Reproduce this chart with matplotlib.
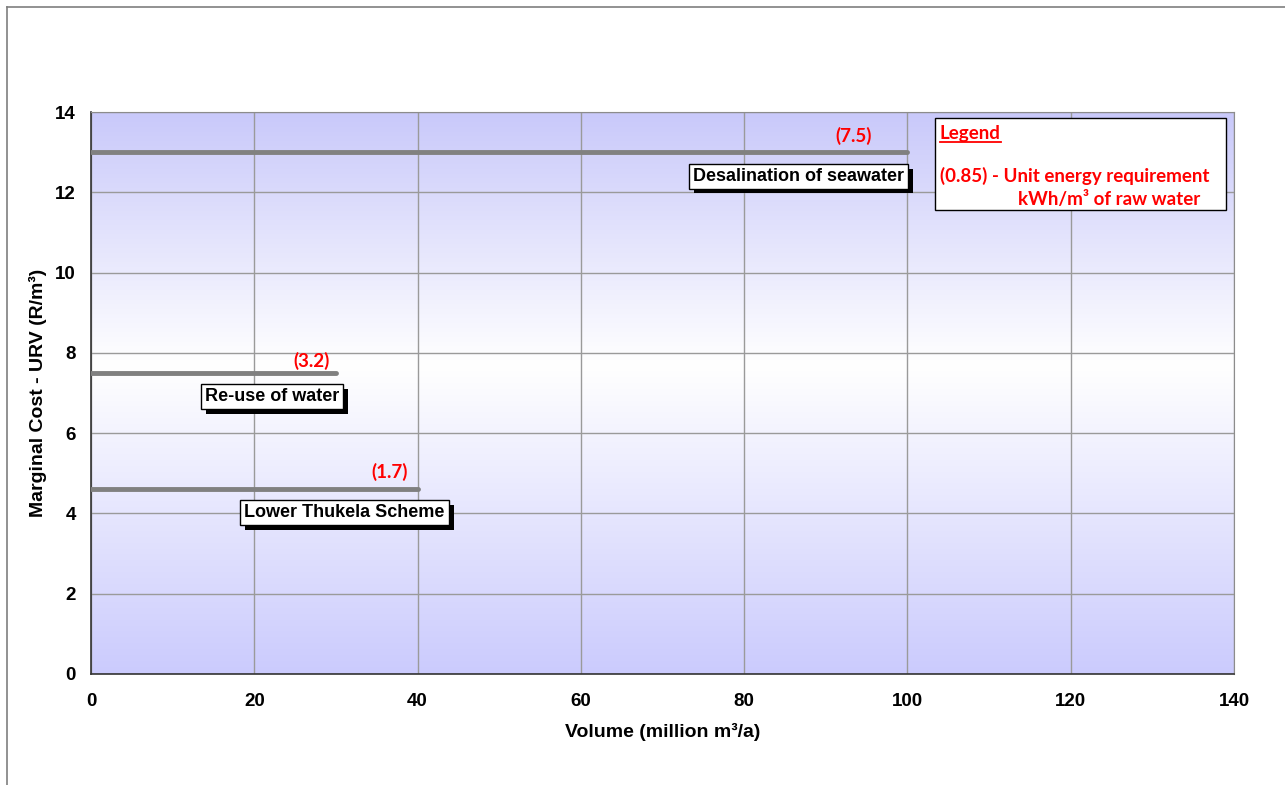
import matplotlib
matplotlib.use("Agg")
import matplotlib.pyplot as plt
import matplotlib.patheffects as pe
import numpy as np
from matplotlib.colors import LinearSegmentedColormap
from matplotlib.lines import Line2D

# Supply options: name, volume (million m3/a), marginal cost (R/m3), unit energy (kWh/m3)
schemes = ["Desalination of seawater", "Re-use of water", "Lower Thukela Scheme"]
volumes = [100, 30, 40]
costs = [13.0, 7.5, 4.6]
energy = [7.5, 3.2, 1.7]

x_ticks = [0, 20, 40, 60, 80, 100, 120, 140]
y_ticks = [0, 2, 4, 6, 8, 10, 12, 14]

# label placement (pixel offsets from the end of each line)
value_off = [(-36, 16), (-6, 12), (-10, 17)]
box_off = [(-109, -24), (-64, -24), (-73, -23)]

RED = "#ff0000"
LINE = "#808080"
px = 0.72  # points per pixel at 100 dpi

fig = plt.figure(figsize=(12.85, 7.85), dpi=100)
ax = fig.add_axes([91 / 1285, 1 - 674 / 785, (1234 - 91) / 1285, (674 - 112) / 785])

# outer chart border (left and top edges visible)
fig.add_artist(Line2D([7 / 1285, 7 / 1285], [0, 1 - 7 / 785], transform=fig.transFigure,
                      color="#7f7f7f", lw=1.2))
fig.add_artist(Line2D([7 / 1285, 1], [1 - 7 / 785, 1 - 7 / 785], transform=fig.transFigure,
                      color="#7f7f7f", lw=1.2))

# background gradient: lavender - white - lavender
cmap = LinearSegmentedColormap.from_list(
    "bg", [(0.0, "#cbcbfd"), (0.55, "#ffffff"), (1.0, "#c9c9fa")])
grad = np.linspace(0, 1, 256).reshape(-1, 1)
ax.imshow(grad, cmap=cmap, aspect="auto", extent=[0, 140, 0, 14], origin="lower",
          zorder=0, interpolation="bicubic")

ax.set_xlim(0, 140)
ax.set_ylim(0, 14)
ax.set_xticks(x_ticks)
ax.set_yticks(y_ticks)
ax.grid(True, color="#9a9a9a", lw=1.0, zorder=1)
ax.tick_params(length=0, labelsize=13.5)
ax.tick_params(axis="x", pad=14)
ax.tick_params(axis="y", pad=11)
for lab in ax.get_xticklabels() + ax.get_yticklabels():
    lab.set_fontweight("bold")
    lab.set_family("Liberation Sans")
for s in ["top", "right"]:
    ax.spines[s].set_color("#8c8c8c")
for s in ["left", "bottom"]:
    ax.spines[s].set_color("#333333")
    ax.spines[s].set_linewidth(1.2)

ax.set_xlabel("Volume (million m³/a)", fontsize=14, fontweight="bold",
              family="Liberation Sans", labelpad=9)
ax.set_ylabel("Marginal Cost - URV (R/m³)", fontsize=14, fontweight="bold",
              family="Liberation Sans", labelpad=6)

shadow = [pe.withSimplePatchShadow(offset=(3.5, -3.5), shadow_rgbFace="black", alpha=1.0)]

for name, v, c, e, vo, bo in zip(schemes, volumes, costs, energy, value_off, box_off):
    ax.plot([0, v], [c, c], color=LINE, lw=3.5, solid_capstyle="round", zorder=3)
    ax.annotate(f"({e})", xy=(v, c), xytext=(vo[0] * px, vo[1] * px),
                textcoords="offset points", ha="right", va="center",
                color=RED, fontsize=13.5, fontweight="bold", family="Lato", zorder=4)
    t = ax.annotate(name, xy=(v, c), xytext=(bo[0] * px, bo[1] * px),
                    textcoords="offset points", ha="center", va="center",
                    color="black", fontsize=13, fontweight="bold", family="Liberation Sans",
                    bbox=dict(boxstyle="square,pad=0.22", fc="white", ec="black", lw=1),
                    zorder=5)
    t.get_bbox_patch().set_path_effects(shadow)

# legend box
fig.patches.append(plt.Rectangle((935 / 1285, 1 - 210 / 785), (1226 - 935) / 1285,
                                 (210 - 118) / 785, transform=fig.transFigure,
                                 fc="white", ec="black", lw=1, zorder=6))
fig.text(940 / 1285, 1 - 133 / 785, "Legend", color=RED, fontsize=13.5, fontweight="bold",
         family="Lato", ha="left", va="center", zorder=7)
fig.add_artist(Line2D([940 / 1285, 1001 / 1285], [1 - 142 / 785, 1 - 142 / 785],
                      transform=fig.transFigure, color=RED, lw=1.3, zorder=7))
fig.text(940 / 1285, 1 - 176 / 785, "(0.85) - Unit energy requirement", color=RED,
         fontsize=13.5, fontweight="bold", family="Lato", ha="left", va="center", zorder=7)
fig.text(1200 / 1285, 1 - 199 / 785, "kWh/m³ of raw water", color=RED,
         fontsize=13.5, fontweight="bold", family="Lato", ha="right", va="center", zorder=7)

fig.savefig("out.png", dpi=100)
